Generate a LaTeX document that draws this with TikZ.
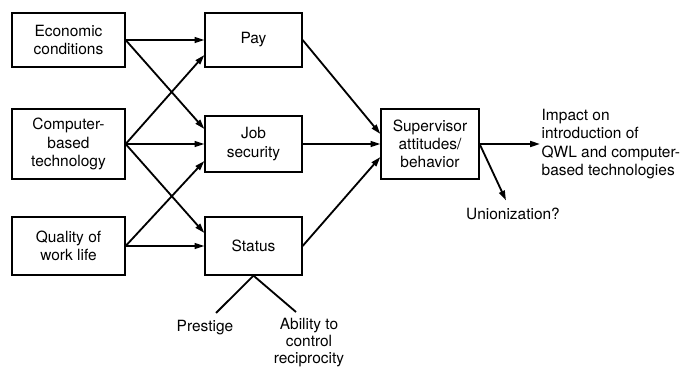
\documentclass[tikz,border=0pt]{standalone}
\usepackage{fontspec}
\setmainfont{TeX Gyre Heros}
\usepackage{tikz}
\usetikzlibrary{positioning, arrows.meta, calc}

\begin{document}
\begin{tikzpicture}[
  x=0.025cm, y=0.025cm,
  >={Triangle[length=7pt, width=4.2pt]},
  factor/.style={draw, line width=0.9pt, align=center, inner sep=2pt,
                 font=\fontsize{11}{13}\selectfont},
  label/.style={align=center, inner sep=1pt, font=\fontsize{11}{13}\selectfont},
  link/.style={->, line width=1.3pt},
]
  \useasboundingbox (0,0) rectangle (685,-369);

  % Left column
  \node[factor, minimum width=113*0.025cm, minimum height=54*0.025cm] (econ) at (68.5,-40) {Economic\\conditions};
  \node[factor, minimum width=113*0.025cm, minimum height=70*0.025cm] (comp) at (68.5,-144) {Computer-\\based\\technology};
  \node[factor, minimum width=113*0.025cm, minimum height=58*0.025cm] (qual) at (68.5,-246) {Quality of\\work life};

  % Middle column
  \node[factor, minimum width=97*0.025cm, minimum height=54*0.025cm] (pay) at (253.5,-40) {Pay};
  \node[factor, minimum width=97*0.025cm, minimum height=56*0.025cm] (job) at (253.5,-144) {Job\\security};
  \node[factor, minimum width=97*0.025cm, minimum height=58*0.025cm] (status) at (253.5,-246) {Status};

  % Right side
  \node[factor, minimum width=98*0.025cm, minimum height=70*0.025cm] (sup) at (430,-144) {Supervisor\\attitudes/\\behavior};
  \node[label, anchor=west, align=left] (impact) at (540,-144) {Impact on\\introduction of\\QWL and computer-\\based technologies};
  \node[label] (union) at (513,-214) {Unionization?};
  \node[label] (prestige) at (205,-328) {Prestige};
  \node[label, anchor=north, font=\fontsize{11}{12}\selectfont] (ability) at (309,-317) {Ability to\\control\\reciprocity};

  % Inputs
  \draw[link] (econ.east) -- (pay.west);
  \draw[link] (econ.east) -- ($(job.west)+(0,15)$);
  \draw[link] (comp.east) -- ($(pay.west)+(0,-15)$);
  \draw[link] (comp.east) -- (job.west);
  \draw[link] (comp.east) -- ($(status.west)+(0,13)$);
  \draw[link] (qual.east) -- (status.west);
  \draw[link] (qual.east) -- ($(job.west)+(0,-17)$);

  % Outputs
  \draw[link] (pay.east) -- ($(sup.west)+(0,10)$);
  \draw[link] (job.east) -- (sup.west);
  \draw[link] (status.east) -- ($(sup.west)+(0,-13)$);
  \draw[link] (sup.east) -- (impact.west);
  \draw[link] (sup.east) -- ($(union.north)+(-7,6)$);

  % Status components
  \draw[line width=1.3pt] (status.south) -- ($(prestige.north)+(11,6)$);
  \draw[line width=1.3pt] (status.south) -- ($(ability.north)+(-13,5)$);
\end{tikzpicture}
\end{document}
